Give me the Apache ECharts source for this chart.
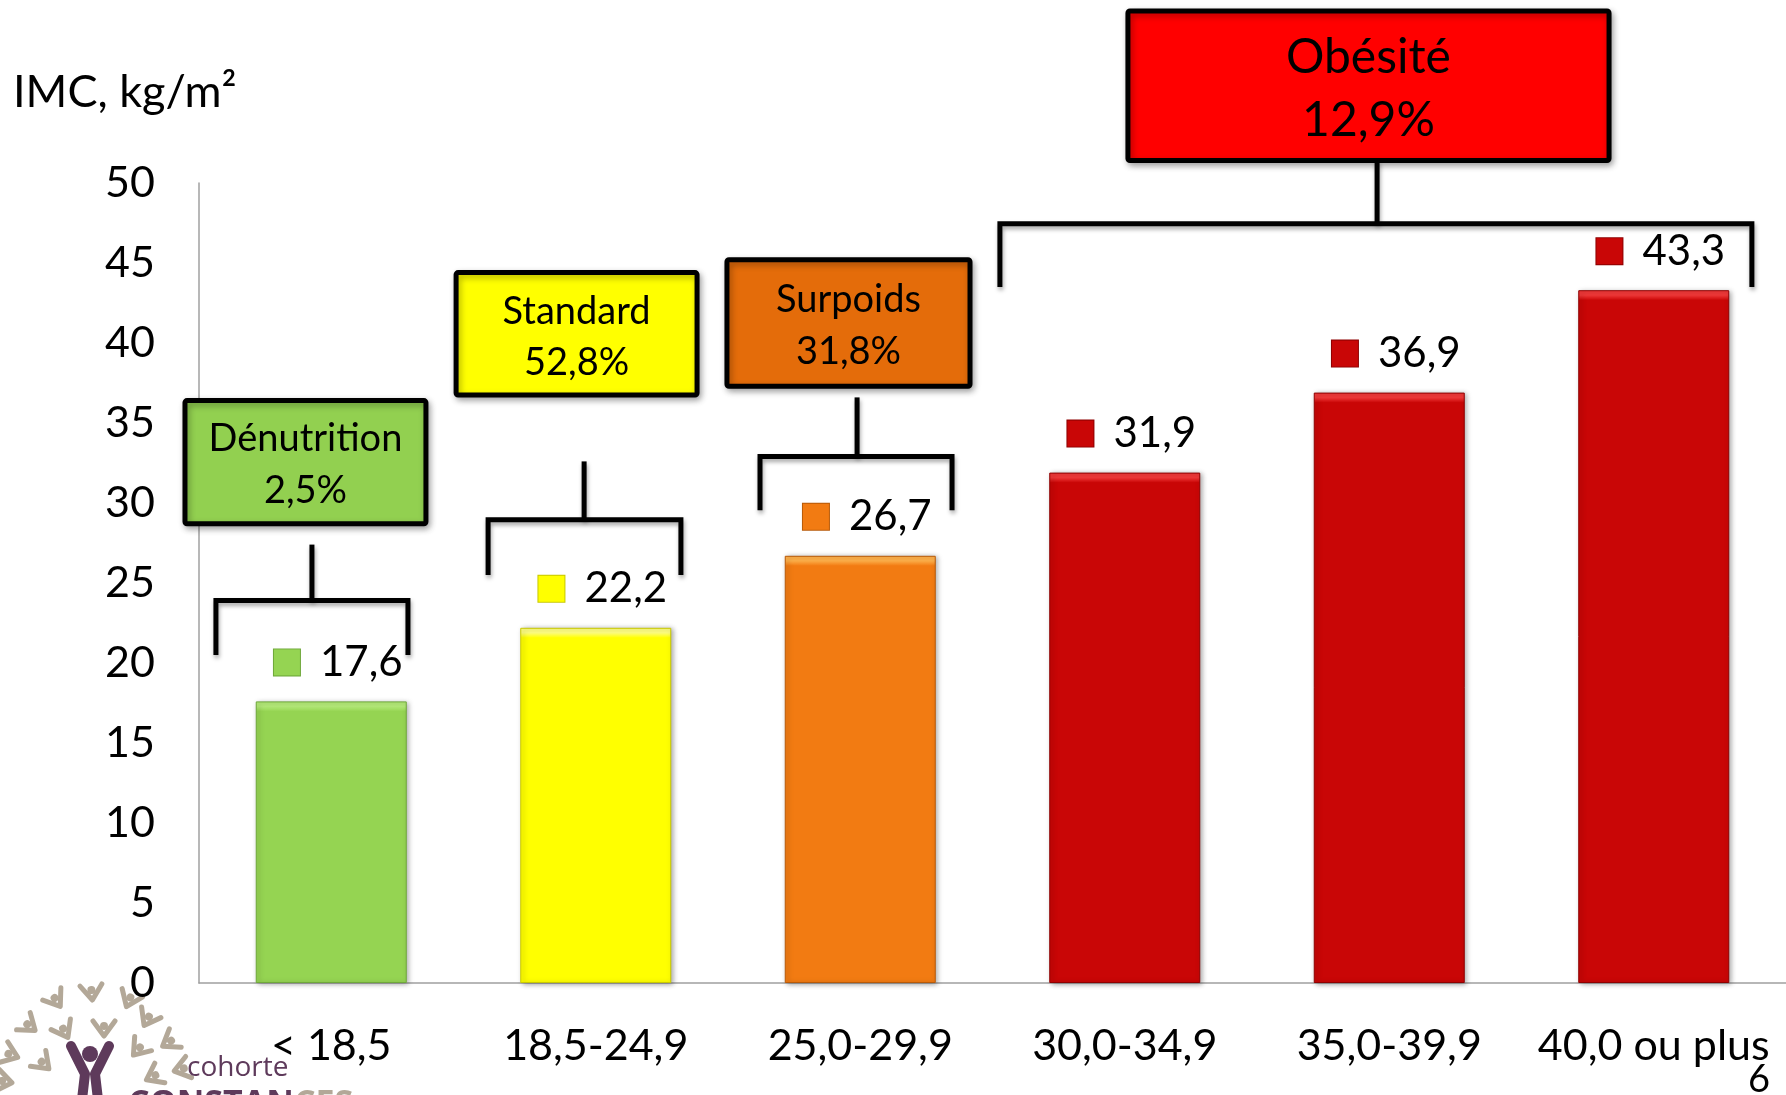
<!DOCTYPE html>
<html>
<head>
<meta charset="utf-8">
<script src="https://cdn.jsdelivr.net/npm/echarts@6/dist/echarts.min.js"></script>
<style>
  html, body { margin: 0; padding: 0; background: #ffffff; }
  #chart { width: 1786px; height: 1095px; }
</style>
</head>
<body>
<div id="chart"></div>
<script>
// BMI classes on the x axis and mean BMI (kg/m²) per class
const CATEGORIES = ['< 18,5', '18,5-24,9', '25,0-29,9', '30,0-34,9', '35,0-39,9', '40,0 ou plus'];
const IMC_MEANS = [17.6, 22.2, 26.7, 31.9, 36.9, 43.3];

// Value axis ticks
const Y_MIN = 0;
const Y_MAX = 50;
const Y_STEP = 5;

// Weight status groups, their share of the cohort, and which classes they cover
const GROUP_NAMES = ['Dénutrition', 'Standard', 'Surpoids', 'Obésité'];
const GROUP_SHARES = ['2,5%', '52,8%', '31,8%', '12,9%'];
const GROUP_OF_CATEGORY = [0, 1, 2, 3, 3, 3];

// Styling
const FONT = 'Lato, "Open Sans", sans-serif';
const BAR_COLORS = ['#95D452', '#FFFF00', '#F27B12', '#C90606'];
const BAR_LIGHTS = ['#B4EA78', '#FFFF80', '#FFB04A', '#F03838'];
const BAR_EDGES = ['#6FA83A', '#C8C800', '#B85A08', '#8E0000'];
const BOX_COLORS = ['#92D050', '#FFFF00', '#E46C0A', '#FF0000'];

// Callout placement: x in category units (class i spans i..i+1), y in axis units
const GROUP_LAYOUT = [
  { box: [-0.053, 0.858, 36.4, 28.7], font: 38, lh: 52, stem: [0.427, 27.4], bracket: [0.064, 0.790, 23.9, 20.5] },
  { box: [0.972, 1.883, 44.4, 36.75], font: 38, lh: 51, stem: [1.456, 32.6], bracket: [1.093, 1.822, 28.95, 25.5] },
  { box: [1.996, 2.915, 45.2, 37.3], font: 38, lh: 52, stem: [2.488, 36.6], bracket: [2.121, 2.847, 32.9, 29.55] },
  { box: [3.512, 5.331, 60.75, 51.4], font: 48, lh: 63, stem: [4.454, 51.4], bracket: [3.028, 5.871, 47.45, 43.5] }
];

const fmt = v => v.toFixed(1).replace('.', ',');

const chart = echarts.init(document.getElementById('chart'), null, { renderer: 'canvas' });

function barItems(pxPerUnit) {
  return IMC_MEANS.map((v, i) => {
    const g = GROUP_OF_CATEGORY[i];
    // light bevel along the top edge of each bar (about 10 px)
    const edge = pxPerUnit ? Math.min(0.2, 10 / (v * pxPerUnit)) : 0.03;
    return {
      value: v,
      itemStyle: {
        color: {
          type: 'linear', x: 0, y: 0, x2: 0, y2: 1,
          colorStops: [
            { offset: 0, color: BAR_LIGHTS[g] },
            { offset: edge * 0.5, color: BAR_LIGHTS[g] },
            { offset: edge, color: BAR_COLORS[g] },
            { offset: 1, color: BAR_COLORS[g] }
          ]
        },
        borderColor: BAR_EDGES[g],
        borderWidth: 1,
        shadowBlur: 5,
        shadowOffsetX: 2,
        shadowOffsetY: 1,
        shadowColor: 'rgba(0,0,0,0.35)'
      },
      label: {
        rich: {
          sq: {
            width: 26, height: 26,
            backgroundColor: BAR_COLORS[g],
            borderColor: BAR_EDGES[g],
            borderWidth: 1
          }
        }
      }
    };
  });
}

chart.setOption({
  animation: false,
  backgroundColor: '#ffffff',
  title: {
    text: 'IMC, kg/m²',
    left: 8,
    top: 65,
    textStyle: { fontFamily: FONT, fontSize: 45, fontWeight: 'normal', color: '#000' }
  },
  grid: { left: 199, right: 0, top: 183, bottom: 112, containLabel: false },
  xAxis: {
    type: 'category',
    data: CATEGORIES,
    axisLine: { show: true, lineStyle: { color: '#A0A0A0', width: 1.5 } },
    axisTick: { show: false },
    axisLabel: { fontFamily: FONT, fontSize: 43, color: '#000', margin: 42, interval: 0 },
    splitLine: { show: false }
  },
  yAxis: {
    type: 'value',
    min: Y_MIN,
    max: Y_MAX,
    interval: Y_STEP,
    axisLine: { show: true, lineStyle: { color: '#A0A0A0', width: 1.5 } },
    axisTick: { show: false },
    axisLabel: { fontFamily: FONT, fontSize: 43, color: '#000', margin: 44 },
    splitLine: { show: false }
  },
  series: [{
    type: 'bar',
    data: barItems(0),
    barWidth: 151,
    label: {
      show: true,
      position: 'top',
      distance: 18,
      offset: [7, 0],
      formatter: p => '{sq|}{gap|}{v|' + fmt(p.value) + '}',
      rich: {
        gap: { width: 20 },
        v: { fontFamily: FONT, fontSize: 42, color: '#000', lineHeight: 42 }
      }
    }
  }]
});

// Callout boxes and brackets, placed through the axes
function drawCallouts() {
  const c0 = chart.convertToPixel({ xAxisIndex: 0 }, 0);
  const c1 = chart.convertToPixel({ xAxisIndex: 0 }, 1);
  const band = c1 - c0;
  const X = u => c0 + (u - 0.5) * band;
  const Y = v => chart.convertToPixel({ yAxisIndex: 0 }, v);
  const pxPerUnit = Y(0) - Y(1);

  const lineShadow = {
    shadowBlur: 4,
    shadowOffsetX: 1,
    shadowOffsetY: 3,
    shadowColor: 'rgba(0,0,0,0.35)'
  };

  const elements = [];
  GROUP_LAYOUT.forEach((L, g) => {
    const bx0 = X(L.box[0]), bx1 = X(L.box[1]);
    const by0 = Y(L.box[2]), by1 = Y(L.box[3]);
    elements.push({
      type: 'rect',
      z: 10,
      shape: { x: bx0, y: by0, width: bx1 - bx0, height: by1 - by0, r: 2 },
      style: {
        fill: BOX_COLORS[g], stroke: '#000', lineWidth: 5,
        shadowBlur: 6, shadowOffsetX: 2, shadowOffsetY: 3, shadowColor: 'rgba(0,0,0,0.3)'
      }
    });
    elements.push({
      type: 'text',
      z: 11,
      x: (bx0 + bx1) / 2,
      y: (by0 + by1) / 2 + 3,
      style: {
        text: GROUP_NAMES[g] + '\n' + GROUP_SHARES[g],
        font: L.font + 'px ' + FONT,
        lineHeight: L.lh,
        fill: '#000',
        align: 'center',
        verticalAlign: 'middle'
      }
    });
    const barY = Y(L.bracket[2]);
    const legY = Y(L.bracket[3]);
    const xl = X(L.bracket[0]), xr = X(L.bracket[1]);
    elements.push({
      type: 'polyline',
      z: 9,
      shape: { points: [[xl, legY], [xl, barY], [xr, barY], [xr, legY]] },
      style: Object.assign({ stroke: '#000', lineWidth: 5, fill: null, lineJoin: 'miter' }, lineShadow)
    });
    const xs = X(L.stem[0]);
    elements.push({
      type: 'line',
      z: 9,
      shape: { x1: xs, y1: Y(L.stem[1]), x2: xs, y2: barY },
      style: Object.assign({ stroke: '#000', lineWidth: 5 }, lineShadow)
    });
  });

  // Slide number
  elements.push({
    type: 'text', z: 12, x: 1759, y: 1080,
    style: { text: '6', font: '38px ' + FONT, fill: '#000', align: 'center', verticalAlign: 'middle' }
  });

  // Cohort logo in the lower-left corner
  const purple = '#5E3A5B';
  const grey = '#B3A898';
  const figures = [
    [58, 1003, 0.6], [92, 996, 0.1], [128, 1003, -0.4], [32, 1028, 0.9], [66, 1034, 0.5],
    [104, 1032, 0.0], [146, 1022, -0.5], [14, 1056, 1.2], [46, 1066, 0.8], [136, 1052, -0.7],
    [166, 1044, -1.0], [8, 1082, 1.4], [150, 1078, -1.1], [178, 1070, -1.3]
  ];
  figures.forEach(f => {
    elements.push({
      type: 'group', x: f[0], y: f[1], rotation: f[2], z: 5,
      children: [
        { type: 'polyline', shape: { points: [[-11, -11], [0, 4], [11, -11]] },
          style: { stroke: grey, lineWidth: 5, fill: null, lineCap: 'round', lineJoin: 'round' } },
        { type: 'circle', shape: { cx: 0, cy: -6, r: 4 }, style: { fill: grey } }
      ]
    });
  });
  elements.push({
    type: 'group', x: 90, y: 1068, z: 6,
    children: [
      { type: 'polyline', shape: { points: [[-19, -22], [-5, 6], [-9, 40]] },
        style: { stroke: purple, lineWidth: 10, fill: null, lineCap: 'round', lineJoin: 'round' } },
      { type: 'polyline', shape: { points: [[19, -22], [5, 6], [9, 40]] },
        style: { stroke: purple, lineWidth: 10, fill: null, lineCap: 'round', lineJoin: 'round' } },
      { type: 'circle', shape: { cx: 0, cy: -14, r: 8 }, style: { fill: purple } }
    ]
  });
  elements.push({
    type: 'text', z: 6, x: 187, y: 1082,
    style: { text: 'cohorte', font: '28px "Open Sans", sans-serif', fill: purple, align: 'left', verticalAlign: 'bottom' }
  });
  elements.push({
    type: 'text', z: 6, x: 128, y: 1087,
    style: {
      text: '{a|CONSTAN}{b|CES}',
      verticalAlign: 'top',
      rich: {
        a: { font: 'bold 34px "Open Sans", sans-serif', fill: purple },
        b: { font: 'bold 34px "Open Sans", sans-serif', fill: grey }
      }
    }
  });

  chart.setOption({ graphic: elements, series: [{ data: barItems(pxPerUnit) }] });
}

drawCallouts();
</script>
</body>
</html>
